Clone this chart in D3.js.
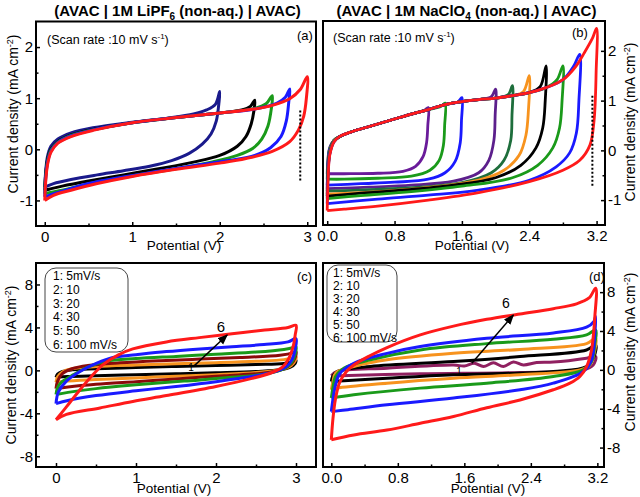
<!DOCTYPE html>
<html><head><meta charset="utf-8">
<script src="https://cdn.jsdelivr.net/npm/d3@7/dist/d3.min.js"></script>
<style>body{margin:0;background:#fff}svg text{font-family:"Liberation Sans",Arial,sans-serif}</style>
</head><body><svg id="c" width="640" height="497"></svg>
<script>
// ---------- DATA (Potential V, Current density mA cm-2) ----------
// Panel (a): AVAC | 1M LiPF6 | AVAC, 10 mV/s, windows 2.0..3.0 V
const a_2_0 = [[0,-0.74],[0.01,-0.45],[0.03,-0.15],[0.07,0.06],[0.15,0.2],[0.3,0.32],[0.55,0.42],[1.0,0.53],[1.4,0.61],[1.7,0.69],[1.85,0.77],[1.95,0.88],[2.0,1.13],[1.99,0.9],[1.96,0.55],[1.9,0.3],[1.8,0.1],[1.65,-0.08],[1.45,-0.22],[1.2,-0.33],[0.9,-0.42],[0.6,-0.5],[0.3,-0.59],[0.1,-0.67],[0,-0.74]];
const a_2_4 = [[0,-0.8],[0.01,-0.5],[0.03,-0.22],[0.07,0.0],[0.15,0.15],[0.3,0.28],[0.55,0.39],[1.0,0.52],[1.5,0.62],[2.0,0.71],[2.25,0.77],[2.35,0.84],[2.4,0.96],[2.39,0.75],[2.36,0.5],[2.3,0.25],[2.2,0.06],[2.0,-0.12],[1.7,-0.25],[1.3,-0.38],[0.9,-0.5],[0.5,-0.62],[0.2,-0.72],[0.05,-0.78],[0,-0.8]];
const a_2_6 = [[0,-0.87],[0.01,-0.55],[0.03,-0.25],[0.07,-0.02],[0.15,0.14],[0.3,0.27],[0.55,0.38],[1.0,0.52],[1.5,0.62],[2.0,0.71],[2.4,0.8],[2.53,0.89],[2.6,1.05],[2.59,0.8],[2.55,0.45],[2.48,0.2],[2.38,0.02],[2.2,-0.12],[1.9,-0.25],[1.5,-0.38],[1.0,-0.52],[0.6,-0.64],[0.25,-0.78],[0.05,-0.85],[0,-0.87]];
const a_2_8 = [[0,-0.93],[0.01,-0.6],[0.03,-0.28],[0.07,-0.04],[0.15,0.13],[0.3,0.26],[0.55,0.38],[1.0,0.52],[1.5,0.62],[2.0,0.71],[2.4,0.79],[2.65,0.9],[2.75,1.02],[2.8,1.18],[2.79,0.95],[2.76,0.55],[2.7,0.25],[2.58,0.03],[2.4,-0.12],[2.1,-0.22],[1.7,-0.32],[1.3,-0.43],[0.9,-0.54],[0.5,-0.67],[0.2,-0.82],[0.05,-0.9],[0,-0.93]];
const a_3_0 = [[0,-1.0],[0.01,-0.65],[0.03,-0.32],[0.07,-0.06],[0.15,0.12],[0.3,0.25],[0.55,0.37],[1.0,0.52],[1.5,0.62],[2.0,0.71],[2.4,0.79],[2.6,0.86],[2.8,0.99],[2.92,1.17],[3.0,1.42],[2.99,1.0],[2.96,0.65],[2.9,0.38],[2.8,0.15],[2.6,-0.04],[2.3,-0.18],[2.0,-0.27],[1.5,-0.39],[1.0,-0.53],[0.6,-0.67],[0.3,-0.8],[0.1,-0.9],[0,-1.0]];
const aSeries = [a_2_0, a_2_4, a_2_6, a_2_8, a_3_0];
const aColors = ["#1a1a8c", "#000000", "#1a9a1a", "#1a1aff", "#ff1a1a"];

// Panel (b): AVAC | 1M NaClO4 | AVAC, 10 mV/s, windows 1.2..3.2 V
const b_1_2 = [[0,-0.47],[0.01,-0.15],[0.03,0.06],[0.08,0.2],[0.15,0.28],[0.3,0.38],[0.5,0.48],[0.8,0.63],[1.0,0.73],[1.15,0.8],[1.2,0.86],[1.195,0.5],[1.18,0.15],[1.14,-0.12],[1.05,-0.32],[0.9,-0.42],[0.6,-0.46],[0.2,-0.47],[0,-0.47]];
const b_1_4 = [[0,-0.58],[0.01,-0.2],[0.03,0.04],[0.08,0.2],[0.15,0.28],[0.3,0.38],[0.5,0.48],[0.8,0.63],[1.0,0.73],[1.2,0.82],[1.35,0.88],[1.4,0.95],[1.395,0.5],[1.38,0.1],[1.33,-0.2],[1.22,-0.4],[1.0,-0.52],[0.6,-0.56],[0.2,-0.58],[0,-0.58]];
const b_1_6 = [[0,-0.7],[0.01,-0.28],[0.03,0.02],[0.08,0.2],[0.15,0.28],[0.3,0.38],[0.5,0.48],[0.8,0.63],[1.0,0.73],[1.2,0.82],[1.4,0.92],[1.55,0.97],[1.6,1.06],[1.595,0.6],[1.58,0.15],[1.52,-0.22],[1.4,-0.45],[1.2,-0.58],[0.8,-0.64],[0.4,-0.67],[0,-0.7]];
const b_2_0 = [[0,-0.77],[0.01,-0.32],[0.03,0.0],[0.08,0.2],[0.15,0.28],[0.3,0.38],[0.5,0.48],[0.8,0.63],[1.0,0.73],[1.2,0.82],[1.4,0.92],[1.6,0.98],[1.8,1.02],[1.95,1.08],[2.0,1.23],[1.995,0.7],[1.98,0.2],[1.92,-0.2],[1.8,-0.45],[1.5,-0.62],[1.0,-0.7],[0.5,-0.74],[0,-0.77]];
const b_2_2 = [[0,-0.82],[0.01,-0.35],[0.03,-0.02],[0.08,0.2],[0.15,0.28],[0.3,0.38],[0.5,0.48],[0.8,0.63],[1.0,0.73],[1.2,0.82],[1.4,0.92],[1.6,0.98],[1.8,1.02],[2.0,1.05],[2.15,1.12],[2.2,1.3],[2.195,0.7],[2.18,0.2],[2.1,-0.2],[1.95,-0.45],[1.6,-0.65],[1.1,-0.74],[0.5,-0.79],[0,-0.82]];
const b_2_4 = [[0,-0.88],[0.01,-0.4],[0.03,-0.04],[0.08,0.19],[0.15,0.28],[0.3,0.38],[0.5,0.48],[0.8,0.63],[1.0,0.73],[1.2,0.82],[1.4,0.92],[1.6,0.98],[1.8,1.02],[2.0,1.05],[2.2,1.1],[2.33,1.18],[2.4,1.5],[2.39,0.8],[2.36,0.3],[2.28,-0.1],[2.1,-0.4],[1.8,-0.6],[1.3,-0.73],[0.7,-0.82],[0,-0.88]];
const b_2_6 = [[0,-0.92],[0.01,-0.42],[0.03,-0.05],[0.08,0.18],[0.15,0.28],[0.3,0.38],[0.5,0.48],[0.8,0.63],[1.0,0.73],[1.2,0.82],[1.4,0.92],[1.6,0.98],[1.8,1.02],[2.0,1.05],[2.2,1.1],[2.4,1.16],[2.53,1.28],[2.6,1.7],[2.59,1.0],[2.56,0.45],[2.48,0.05],[2.3,-0.3],[2.0,-0.55],[1.5,-0.7],[0.9,-0.8],[0.4,-0.86],[0,-0.92]];
const b_2_8 = [[0,-0.97],[0.01,-0.45],[0.03,-0.06],[0.08,0.18],[0.15,0.28],[0.3,0.38],[0.5,0.48],[0.8,0.63],[1.0,0.73],[1.2,0.82],[1.4,0.92],[1.6,0.98],[1.8,1.02],[2.0,1.05],[2.2,1.1],[2.4,1.16],[2.6,1.26],[2.73,1.42],[2.8,1.7],[2.79,1.0],[2.76,0.45],[2.68,0.05],[2.5,-0.3],[2.2,-0.55],[1.6,-0.72],[1.0,-0.83],[0.4,-0.91],[0,-0.97]];
const b_3_0 = [[0,-1.07],[0.01,-0.5],[0.03,-0.08],[0.08,0.17],[0.15,0.28],[0.3,0.38],[0.5,0.48],[0.8,0.63],[1.0,0.73],[1.2,0.82],[1.4,0.92],[1.6,0.98],[1.8,1.02],[2.0,1.05],[2.2,1.1],[2.4,1.16],[2.6,1.26],[2.8,1.42],[2.93,1.7],[3.0,1.93],[2.99,1.0],[2.96,0.35],[2.88,-0.05],[2.72,-0.33],[2.4,-0.6],[1.8,-0.8],[1.2,-0.9],[0.6,-0.98],[0,-1.07]];
const b_3_2 = [[0,-1.21],[0.01,-0.6],[0.03,-0.1],[0.08,0.17],[0.15,0.28],[0.3,0.38],[0.5,0.48],[0.8,0.63],[1.0,0.73],[1.2,0.82],[1.4,0.92],[1.6,0.98],[1.8,1.02],[2.0,1.05],[2.2,1.1],[2.4,1.16],[2.6,1.26],[2.8,1.42],[2.95,1.68],[3.05,1.95],[3.15,2.25],[3.2,2.45],[3.195,1.6],[3.17,0.6],[3.12,0.1],[3.0,-0.2],[2.8,-0.4],[2.4,-0.63],[1.8,-0.85],[1.2,-1.0],[0.6,-1.12],[0.2,-1.18],[0,-1.21]];
const bSeries = [b_1_2, b_1_4, b_1_6, b_2_0, b_2_2, b_2_4, b_2_6, b_2_8, b_3_0, b_3_2];
const bColors = ["#6a1b9a", "#1a9a1a", "#1a1aff", "#5c1f8c", "#1e6e3c", "#f7931e", "#000000", "#1a9a1a", "#1a1aff", "#ff1a1a"];

// Panel (c): LiPF6, 0-3 V, scan rates 5..100 mV/s
const c_5 = [[0,-0.65],[0.02,-0.35],[0.08,-0.1],[0.2,0.05],[0.5,0.15],[1.0,0.27],[1.5,0.37],[2.0,0.45],[2.5,0.55],[2.85,0.65],[2.98,0.85],[3.0,0.95],[2.99,0.65],[2.93,0.3],[2.8,0.05],[2.5,-0.1],[2.0,-0.22],[1.5,-0.32],[1.0,-0.4],[0.5,-0.5],[0.15,-0.58],[0,-0.65]];
const c_10 = [[0,-1.1],[0.02,-0.6],[0.08,-0.15],[0.2,0.15],[0.5,0.35],[1.0,0.5],[1.5,0.62],[2.0,0.72],[2.5,0.85],[2.85,1.0],[2.98,1.2],[3.0,1.3],[2.99,0.9],[2.94,0.45],[2.8,0.05],[2.5,-0.2],[2.0,-0.4],[1.5,-0.55],[1.0,-0.7],[0.5,-0.85],[0.15,-1.0],[0,-1.1]];
const c_20 = [[0,-1.7],[0.02,-1.0],[0.08,-0.3],[0.2,0.15],[0.4,0.45],[0.8,0.7],[1.3,0.9],[1.8,1.05],[2.3,1.2],[2.8,1.4],[2.97,1.65],[3.0,1.75],[2.99,1.2],[2.94,0.6],[2.83,0.1],[2.6,-0.25],[2.1,-0.5],[1.5,-0.8],[1.0,-1.05],[0.5,-1.3],[0.15,-1.55],[0,-1.7]];
const c_30 = [[0,-2.25],[0.02,-1.6],[0.07,-1.1],[0.22,-0.4],[0.42,0.37],[0.63,0.85],[1.0,1.1],[1.5,1.3],[2.0,1.5],[2.5,1.7],[2.85,1.95],[2.98,2.15],[3.0,2.2],[2.99,1.5],[2.95,0.8],[2.85,0.15],[2.65,-0.3],[2.2,-0.65],[1.6,-1.0],[1.0,-1.35],[0.5,-1.7],[0.15,-2.05],[0,-2.25]];
const c_50 = [[0,-3.1],[0.03,-2.0],[0.13,-1.0],[0.3,-0.1],[0.51,0.68],[0.71,1.2],[1.0,1.45],[1.38,1.75],[1.8,2.0],[2.2,2.2],[2.6,2.4],[2.9,2.65],[3.0,2.95],[2.99,2.0],[2.95,1.0],[2.88,0.35],[2.75,-0.1],[2.5,-0.5],[2.0,-1.05],[1.5,-1.5],[1.0,-1.9],[0.5,-2.35],[0.15,-2.8],[0,-3.1]];
const c_100 = [[0,-4.6],[0.13,-3.4],[0.3,-1.8],[0.45,-0.5],[0.6,0.6],[0.78,1.45],[0.96,2.0],[1.38,2.65],[1.79,3.05],[2.2,3.4],[2.61,3.75],[2.9,4.0],[3.0,4.2],[2.99,3.3],[2.97,2.4],[2.91,1.1],[2.83,0.3],[2.7,-0.2],[2.45,-0.75],[2.0,-1.5],[1.38,-2.35],[0.96,-2.9],[0.55,-3.5],[0.13,-4.1],[0,-4.6]];
const cSeries = [c_5, c_10, c_20, c_30, c_50, c_100];
const cColors = ["#000000", "#f7931e", "#8b0a0a", "#1a9a1a", "#1a1aff", "#ff1a1a"];

// Panel (d): NaClO4, 0-3.2 V, scan rates 5..100 mV/s
const d_5 = [[0,-0.6],[0.07,-0.17],[0.67,0.17],[1.47,0.5],[1.6,0.4],[1.72,0.68],[1.83,0.34],[1.95,0.72],[2.07,0.34],[2.19,0.8],[2.31,0.5],[2.47,0.75],[2.67,0.8],[3.07,1.2],[3.18,1.37],[3.15,0.5],[3.03,0],[2.27,-0.27],[1.07,-0.41],[0,-0.62]];
const d_10 = [[0,-1.2],[0.02,-0.6],[0.07,-0.17],[0.47,0.34],[1.47,0.86],[2.27,1.37],[3.07,2.05],[3.18,2.57],[3.16,1.37],[3.07,0.34],[2.67,-0.17],[1.47,-0.5],[0.67,-0.86],[0,-1.2]];
const d_20 = [[0,-2.05],[0.02,-1.2],[0.05,-0.34],[0.27,0.34],[0.67,1.03],[1.47,1.7],[2.27,2.1],[3.07,2.7],[3.18,3.25],[3.17,2.05],[3.11,0.5],[2.99,0],[2.27,-0.5],[1.47,-0.86],[0.67,-1.37],[0.07,-1.88],[0,-2.05]];
const d_30 = [[0,-2.9],[0.02,-1.8],[0.05,-0.7],[0.15,0.17],[0.47,1.03],[1.07,2.05],[1.87,2.7],[2.67,3.15],[3.07,3.6],[3.18,4.1],[3.17,2.7],[3.13,0.86],[3.03,0],[2.67,-0.68],[1.87,-1.37],[1.07,-1.88],[0.27,-2.57],[0,-2.9]];
const d_50 = [[0,-4.3],[0.02,-3.0],[0.05,-1.6],[0.1,-0.4],[0.27,0.68],[0.67,1.7],[1.07,2.4],[1.87,3.25],[2.67,3.8],[3.07,4.4],[3.16,5.0],[3.18,5.5],[3.17,3.8],[3.13,1.0],[3.03,-0.17],[2.67,-1.37],[2.27,-2.05],[1.47,-2.9],[0.67,-3.6],[0.2,-4.1],[0,-4.3]];
const d_100 = [[0,-7.2],[0.02,-5.0],[0.05,-3.0],[0.1,-1.3],[0.18,-0.2],[0.27,0.5],[0.45,1.4],[0.67,2.3],[1.07,3.6],[1.47,4.5],[1.87,5.2],[2.27,5.75],[2.67,6.3],[2.95,6.8],[3.1,7.4],[3.18,8.4],[3.17,5.5],[3.13,2.05],[3.07,0.34],[2.99,-0.68],[2.87,-1.37],[2.67,-2.05],[2.27,-3.1],[1.87,-3.9],[1.47,-4.8],[1.07,-5.5],[0.67,-6.2],[0.27,-6.7],[0,-7.2]];
const dSeries = [d_5, d_10, d_20, d_30, d_50, d_100];
const dColors = ["#902060", "#000000", "#f7931e", "#1a9a1a", "#1a1aff", "#ff1a1a"];

// Tick values / labels
const xTicksAC = [0, 1, 2, 3];
const xMinorAC = [0.5, 1.5, 2.5];
const xTicksBD = [0, 0.8, 1.6, 2.4, 3.2];
const xMinorBD = [0.4, 1.2, 2.0, 2.8];
const yTicksAB = [-1, 0, 1, 2];
const yMinorAB = [-0.5, 0.5, 1.5];
const yTicksCD = [-8, -4, 0, 4, 8];
const yMinorCD = [-6, -2, 2, 6];
const legendLabels = ["1: 5mV/s", "2: 10", "3: 20", "4: 30", "5: 50", "6: 100 mV/s"];
const arrowC = [[1.72, 0.37], [2.14, 3.3]];
const arrowD = [[1.69, 0.69], [2.19, 5.65]];
const dotA = [[2.92, 0.76], [2.92, -0.64]];
const dotB = [[3.15, 1.1], [3.15, -0.73]];

// ---------- DRAW ----------
const svg = d3.select("#c");
svg.append("rect").attr("width", 640).attr("height", 497).attr("fill", "#fff");
const defs = svg.append("defs");
defs.append("marker").attr("id", "ah").attr("viewBox", "0 0 10 10").attr("refX", 9).attr("refY", 5)
  .attr("markerWidth", 7).attr("markerHeight", 7).attr("orient", "auto")
  .append("path").attr("d", "M0,1 L10,5 L0,9 Z").attr("fill", "#000");

let clipN = 0;
function panel(o) {
  const x = d3.scaleLinear().domain(o.xd).range([o.x0, o.x1]);
  const y = d3.scaleLinear().domain(o.yd).range([o.y1, o.y0]);
  const id = "clip" + (clipN++);
  defs.append("clipPath").attr("id", id).append("rect")
    .attr("x", o.x0).attr("y", o.y0).attr("width", o.x1 - o.x0).attr("height", o.y1 - o.y0);
  const g = svg.append("g");
  const line = d3.line().x(d => x(d[0])).y(d => y(d[1])).curve(d3.curveCatmullRom.alpha(0.5));
  const cg = g.append("g").attr("clip-path", `url(#${id})`);
  o.series.forEach((s, i) => {
    cg.append("path").attr("d", line(s)).attr("fill", "none").attr("stroke", o.colors[i])
      .attr("stroke-width", o.lw || 3).attr("stroke-linejoin", "round");
  });
  g.append("g").attr("transform", `translate(0,${o.y1})`)
    .call(d3.axisBottom(x).tickValues(o.xt).tickSize(-4).tickPadding(5).tickFormat(o.xfmt));
  g.append("g").attr("transform", `translate(0,${o.y1})`)
    .call(d3.axisBottom(x).tickValues(o.xm).tickSize(-2.5).tickFormat(""));
  if (o.yRight) {
    g.append("g").attr("transform", `translate(${o.x1},0)`)
      .call(d3.axisRight(y).tickValues(o.yt).tickSize(-4).tickPadding(3).tickFormat(d => String(d)));
    g.append("g").attr("transform", `translate(${o.x1},0)`)
      .call(d3.axisRight(y).tickValues(o.ym).tickSize(-2.5).tickFormat(""));
  } else {
    g.append("g").attr("transform", `translate(${o.x0},0)`)
      .call(d3.axisLeft(y).tickValues(o.yt).tickSize(-4).tickPadding(3).tickFormat(d => String(d)));
    g.append("g").attr("transform", `translate(${o.x0},0)`)
      .call(d3.axisLeft(y).tickValues(o.ym).tickSize(-2.5).tickFormat(""));
  }
  g.selectAll(".domain").remove();
  g.selectAll(".tick line").attr("stroke", "#000").attr("stroke-width", 1.5);
  g.selectAll(".tick text").attr("font-size", 15).attr("fill", "#000")
    .attr("font-family", '"Liberation Sans",Arial,sans-serif');
  g.append("rect").attr("x", o.x0).attr("y", o.y0).attr("width", o.x1 - o.x0).attr("height", o.y1 - o.y0)
    .attr("fill", "none").attr("stroke", "#000").attr("stroke-width", 2);
  return { x, y, g };
}

const fInt = d => String(d);
const f1 = d => d.toFixed(1);
const pa = panel({ x0: 36, x1: 316, y0: 21.5, y1: 226, xd: [-0.1, 3.1], yd: [-1.5, 2.5], xt: xTicksAC, xm: xMinorAC, yt: yTicksAB, ym: yMinorAB, xfmt: fInt, series: aSeries, colors: aColors });
const pb = panel({ x0: 323, x1: 605, y0: 21, y1: 225, xd: [-0.05, 3.3], yd: [-1.5, 2.6], xt: xTicksBD, xm: xMinorBD, yt: yTicksAB, ym: yMinorAB, xfmt: f1, yRight: true, series: bSeries, colors: bColors, lw: 2.8 });
const pc = panel({ x0: 36, x1: 316, y0: 263, y1: 467, xd: [-0.25, 3.25], yd: [-9, 10], xt: xTicksAC, xm: xMinorAC, yt: yTicksCD, ym: yMinorCD, xfmt: fInt, series: cSeries, colors: cColors });
const pd = panel({ x0: 323, x1: 604, y0: 263, y1: 467, xd: [-0.1, 3.28], yd: [-10, 11], xt: xTicksBD, xm: xMinorBD, yt: yTicksCD, ym: yMinorCD, xfmt: f1, yRight: true, series: dSeries, colors: dColors });

// dotted lines
[[pa, dotA], [pb, dotB]].forEach(([p, dl]) => {
  p.g.append("line").attr("x1", p.x(dl[0][0])).attr("x2", p.x(dl[1][0]))
    .attr("y1", p.y(dl[0][1])).attr("y2", p.y(dl[1][1]))
    .attr("stroke", "#000").attr("stroke-width", 2).attr("stroke-dasharray", "2,2");
});
// arrows
[[pc, arrowC], [pd, arrowD]].forEach(([p, ar]) => {
  p.g.append("line").attr("x1", p.x(ar[0][0])).attr("y1", p.y(ar[0][1]))
    .attr("x2", p.x(ar[1][0])).attr("y2", p.y(ar[1][1]))
    .attr("stroke", "#000").attr("stroke-width", 1.5).attr("marker-end", "url(#ah)");
});

function txt(x, y, s, size, opts = {}) {
  const t = svg.append("text").attr("x", x).attr("y", y).attr("font-size", size).attr("fill", "#000")
    .attr("text-anchor", opts.anchor || "start");
  if (opts.bold) t.attr("font-weight", "bold");
  t.text(s);
  return t;
}

function title(x, pre, sub, post) {
  const t = svg.append("text").attr("x", x).attr("y", 15.5).attr("text-anchor", "middle")
    .attr("font-size", 15).attr("font-weight", "bold").attr("fill", "#000");
  t.append("tspan").text(pre);
  t.append("tspan").attr("font-size", 10).attr("dy", 4).text(sub);
  t.append("tspan").attr("dy", -4).text(post);
}
title(177.5, "(AVAC | 1M LiPF", "6", " (non-aq.) | AVAC)");
title(466.5, "(AVAC | 1M NaClO", "4", " (non-aq.) | AVAC)");

function ytitle(x, y) {
  const t = svg.append("text").attr("x", x).attr("y", y).attr("text-anchor", "middle")
    .attr("font-size", 14).attr("fill", "#000").attr("transform", `rotate(-90,${x},${y})`);
  t.append("tspan").text("Current density (mA cm");
  t.append("tspan").attr("font-size", 9).attr("dy", -5).text("-2");
  t.append("tspan").attr("dy", 5).text(")");
}
ytitle(18, 114);
ytitle(634.5, 122);
ytitle(16, 365);
ytitle(634.5, 352);

txt(184, 250, "Potential (V)", 13.5, { anchor: "middle" });
txt(472, 250, "Potential (V)", 13.5, { anchor: "middle" });
txt(174, 493, "Potential (V)", 13.5, { anchor: "middle" });
txt(488, 493, "Potential (V)", 13.5, { anchor: "middle" });

function scan(x, y) {
  const t = svg.append("text").attr("x", x).attr("y", y).attr("font-size", 12.5).attr("fill", "#000");
  t.append("tspan").text("(Scan rate :10 mV s");
  t.append("tspan").attr("font-size", 8).attr("dy", -5).text("-1");
  t.append("tspan").attr("dy", 5).text(")");
}
scan(47, 44);
scan(333, 42);

txt(297, 40, "(a)", 13);
txt(572, 37, "(b)", 13);
txt(297, 281, "(c)", 13);
txt(589, 281, "(d)", 13);

function legend(x0, y0, w, h, tx, ty0, dy) {
  svg.append("rect").attr("x", x0).attr("y", y0).attr("width", w).attr("height", h).attr("rx", 11)
    .attr("fill", "#fff").attr("stroke", "#444").attr("stroke-width", 1);
  legendLabels.forEach((l, i) => txt(tx, ty0 + i * dy, l, 12));
}
legend(45, 268, 83, 84, 53, 280, 13.8);
legend(327, 265, 70, 77, 333, 277, 12.9);

txt(221, 332, "6", 15, { anchor: "middle" });
txt(191, 371, "1", 10, { anchor: "middle" });
txt(506, 308, "6", 14, { anchor: "middle" });
txt(459, 375, "1", 10, { anchor: "middle" });
</script></body></html>
